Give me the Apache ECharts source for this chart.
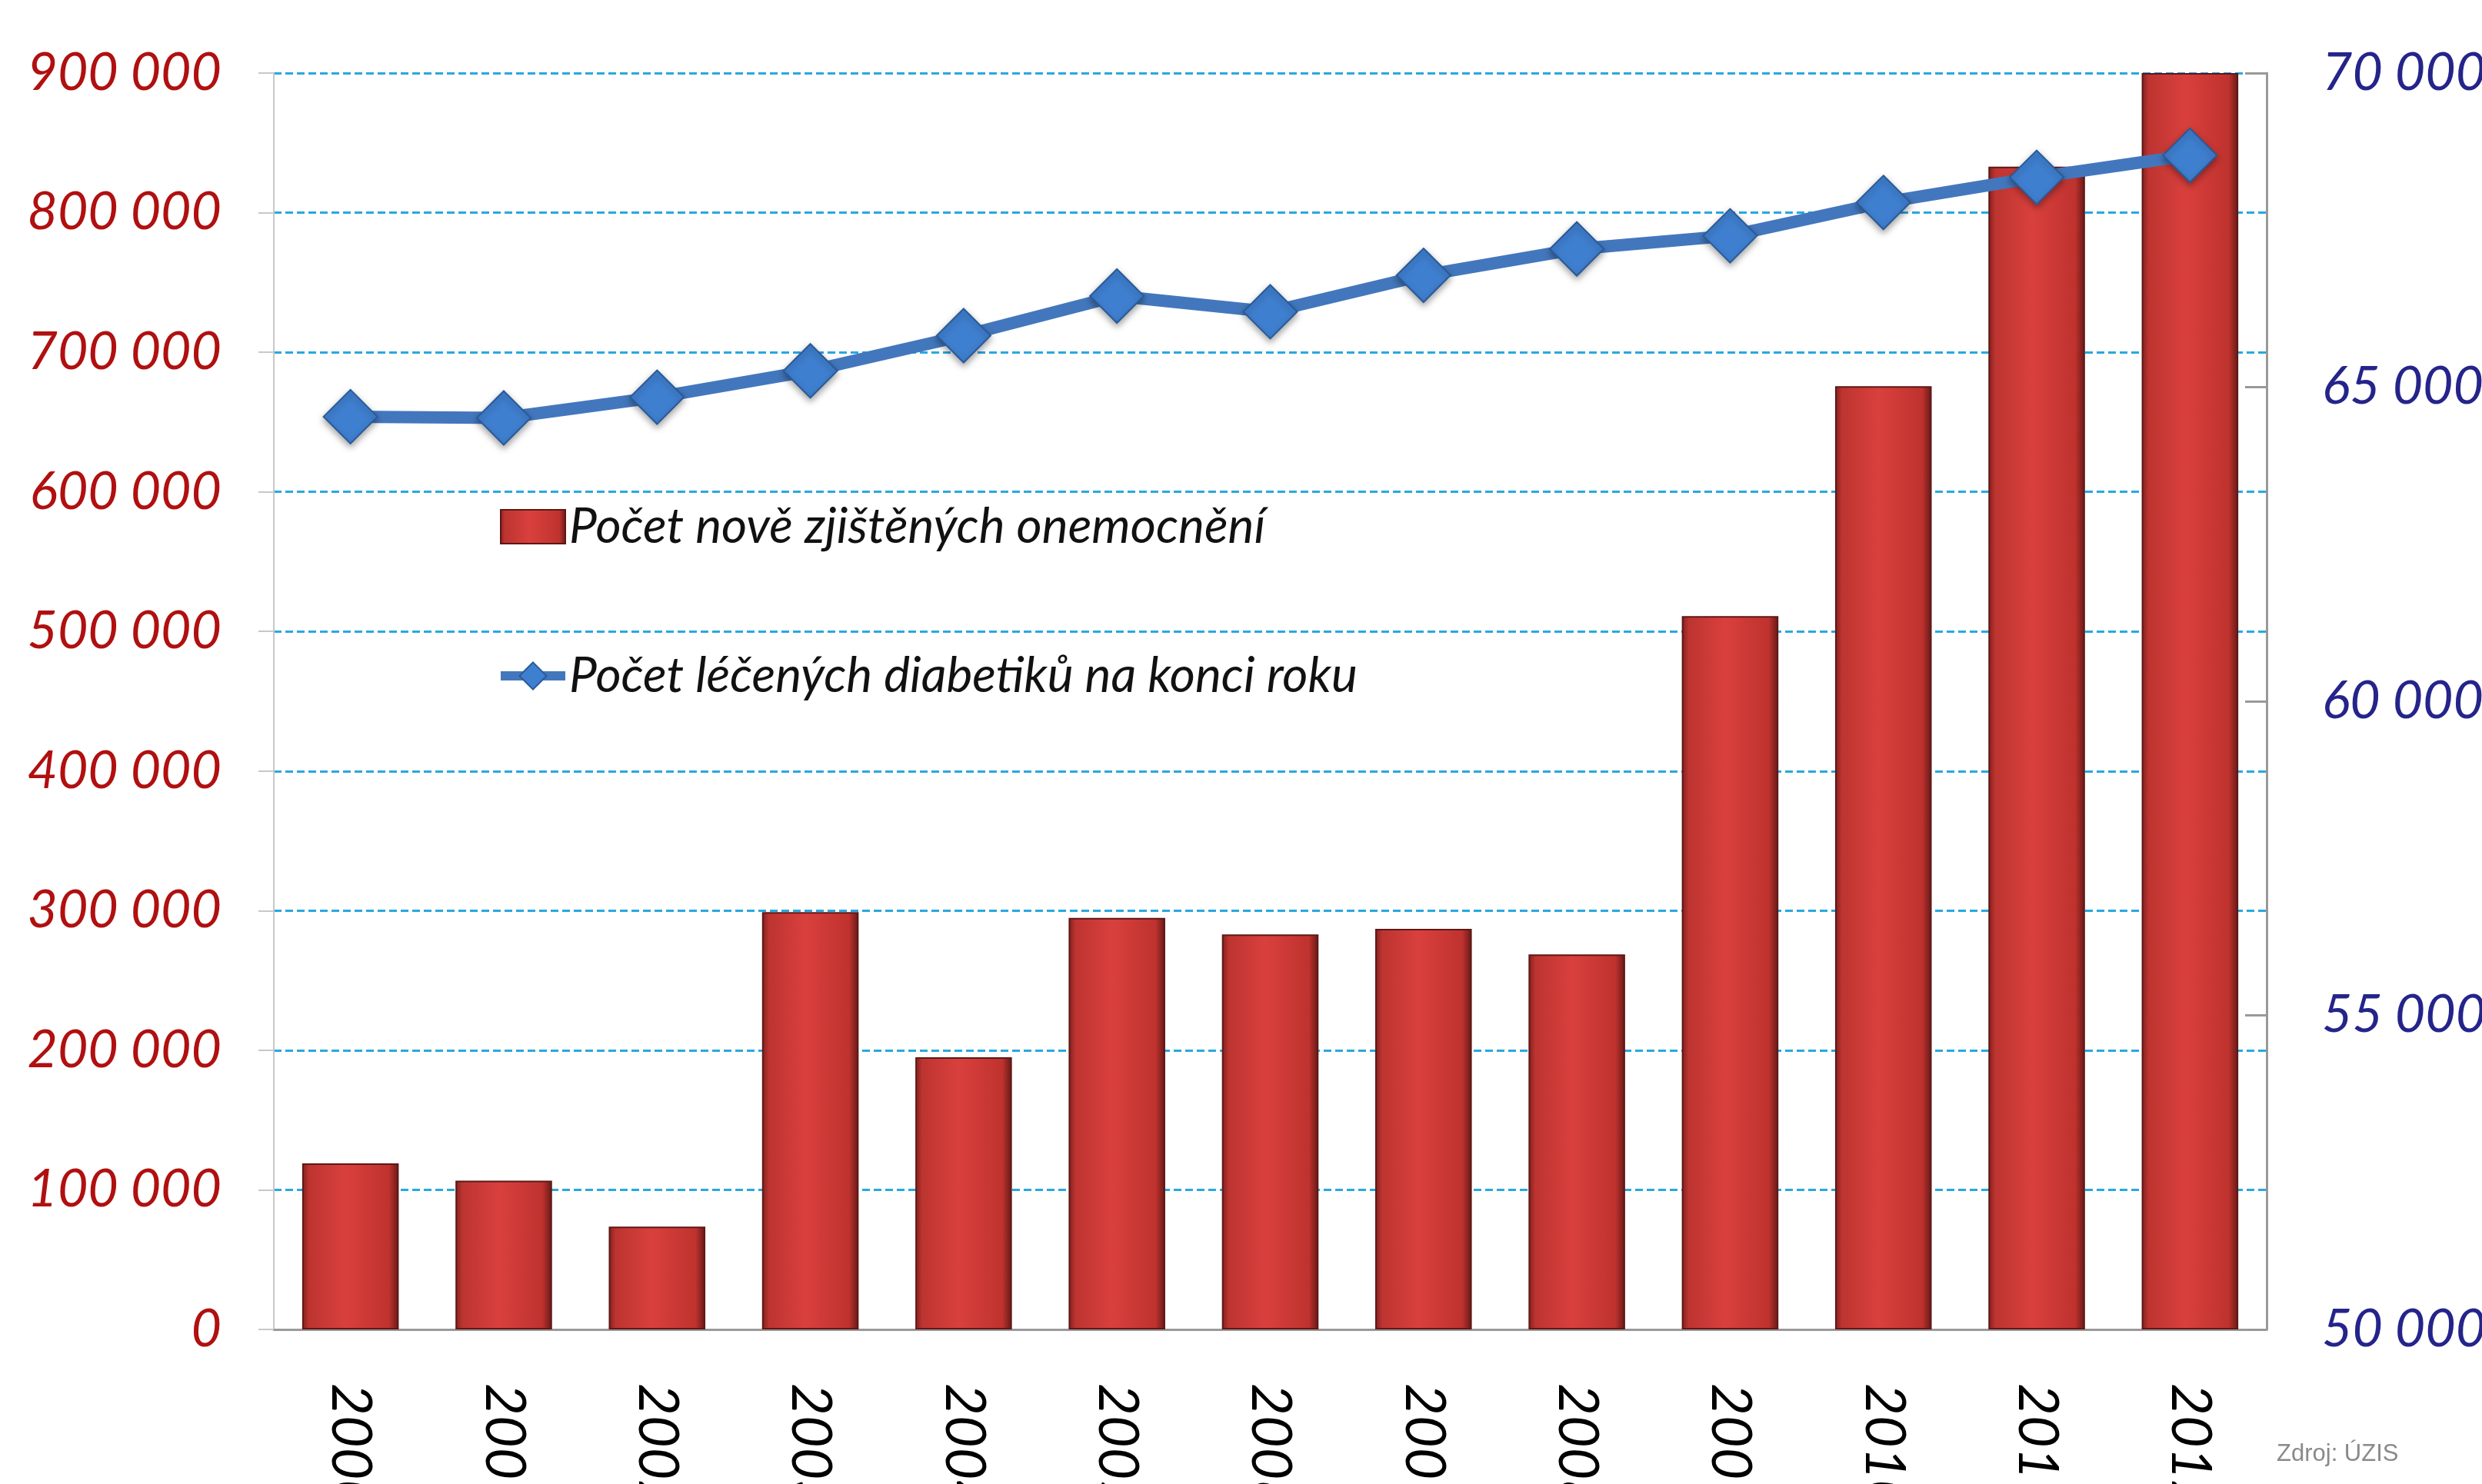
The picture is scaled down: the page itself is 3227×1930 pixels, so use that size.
<!DOCTYPE html>
<html><head><meta charset="utf-8">
<script src="https://cdn.jsdelivr.net/npm/echarts@6/dist/echarts.min.js"></script>
<style>html,body{margin:0;padding:0;background:#fff}#c{width:3227px;height:1930px}</style>
</head><body><div id="c"></div>
<script>
const years = ['2000','2001','2002','2003','2004','2005','2006','2007','2008','2009','2010','2011','2012'];
const newCases = [119000,106600,73700,299000,195000,294800,283000,287000,268700,511000,675700,833000,900000];
const treated = [64530,64510,64840,65260,65820,66450,66200,66780,67200,67410,67940,68340,68690];
const leftTicks = {min:0,max:900000,interval:100000};
const rightTicks = {min:50000,max:70000,interval:5000};
const barName = 'Počet nově zjištěných onemocnění';
const lineName = 'Počet léčených diabetiků na konci roku';

const fmt = v => String(v).replace(/\B(?=(\d{3})+(?!\d))/g,' ');
const chart = echarts.init(document.getElementById('c'));
const barGrad = new echarts.graphic.LinearGradient(0,0,1,0,[
  {offset:0,color:'#7e201e'},{offset:0.07,color:'#bd3430'},{offset:0.45,color:'#d9403d'},
  {offset:0.9,color:'#bf322e'},{offset:1,color:'#641917'}]);
chart.setOption({
  animation:false,
  backgroundColor:'#fff',
  grid:{left:356,right:280,top:95,bottom:201,containLabel:false,outerBoundsMode:'none'},
  legend:{
    orient:'vertical',left:640,top:648,itemGap:130,itemWidth:84,itemHeight:44,
    textStyle:{fontFamily:'Lato',fontStyle:'italic',fontSize:64,color:'#111'},
    data:[{name:barName,icon:'rect'},{name:lineName,lineStyle:{width:12}}]
  },
  xAxis:{
    type:'category',data:years,boundaryGap:true,
    axisLine:{lineStyle:{color:'#9a9a9a',width:3}},
    axisTick:{show:false},
    axisLabel:{rotate:-90,margin:70,fontFamily:'Lato',fontStyle:'italic',fontSize:72,color:'#000'}
  },
  yAxis:[{
    type:'value',min:leftTicks.min,max:leftTicks.max,interval:leftTicks.interval,
    axisLine:{show:true,lineStyle:{color:'#c8c8c8',width:2}},
    axisTick:{show:true,length:20,lineStyle:{color:'#c8c8c8',width:2}},
    splitLine:{show:true,lineStyle:{color:'#29a8df',width:3,type:[10,5]}},
    axisLabel:{margin:68,formatter:fmt,fontFamily:'Lato',fontStyle:'italic',fontSize:68,color:'#b01010'}
  },{
    type:'value',position:'right',min:rightTicks.min,max:rightTicks.max,interval:rightTicks.interval,
    axisLine:{show:true,lineStyle:{color:'#999',width:3}},
    axisTick:{show:true,length:28,inside:true,lineStyle:{color:'#999',width:3}},
    splitLine:{show:false},
    axisLabel:{margin:72,formatter:fmt,fontFamily:'Lato',fontStyle:'italic',fontSize:68,color:'#24248a'}
  }],
  series:[{
    name:barName,type:'bar',yAxisIndex:0,data:newCases,barWidth:'63%',
    itemStyle:{color:barGrad,borderColor:'#5e1816',borderWidth:2},
    z:2
  },{
    name:lineName,type:'line',yAxisIndex:1,data:treated,
    symbol:'diamond',symbolSize:[70,70],
    lineStyle:{color:'#4377bd',width:16},
    itemStyle:{color:'#3f7fcf',borderColor:'#2a5a98',borderWidth:2,shadowColor:'rgba(0,0,0,0.35)',shadowBlur:8,shadowOffsetY:4},
    z:5
  }],
  graphic:[{type:'text',left:2960,top:1876,style:{text:'Zdroj: ÚZIS',fontFamily:'Liberation Sans',fontSize:31,fill:'#8a8a8a'}}]
});
</script></body></html>
